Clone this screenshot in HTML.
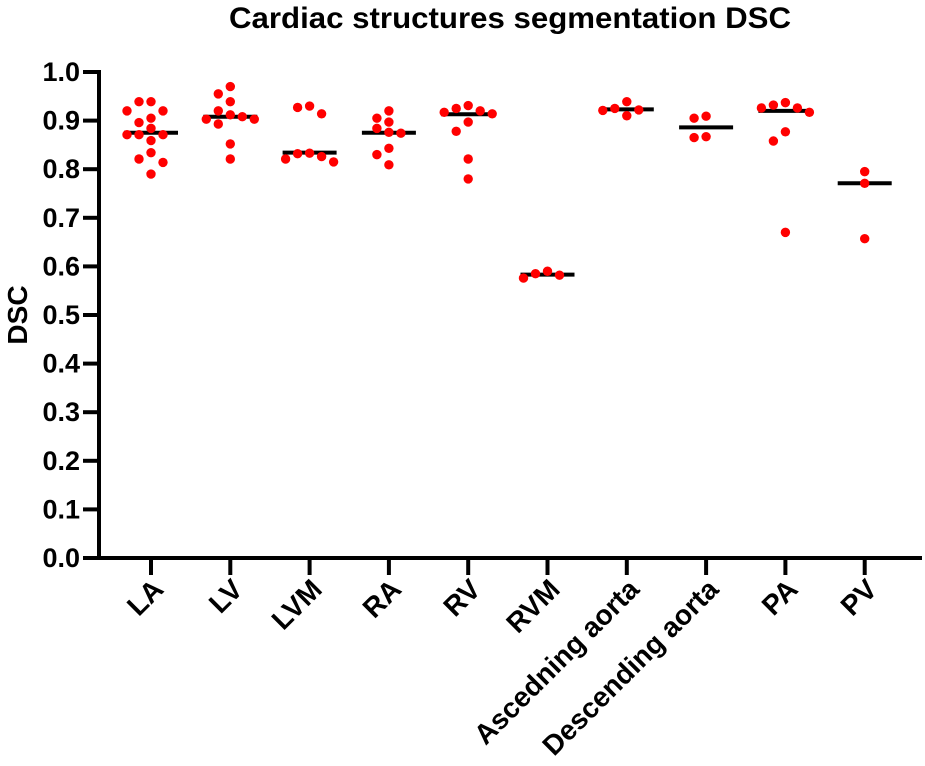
<!DOCTYPE html>
<html><head><meta charset="utf-8"><style>
body{margin:0;background:#fff;}
svg{display:block;font-family:"Liberation Sans",Arial,sans-serif;font-weight:bold;}
</style></head><body>
<svg id="chart" width="925" height="766">
<text x="510" y="28" text-anchor="middle" font-size="30" textLength="562" lengthAdjust="spacingAndGlyphs">Cardiac structures segmentation DSC</text>
<text transform="translate(27,315) rotate(-90)" text-anchor="middle" font-size="28">DSC</text>
<g id="axes"></g><g id="marks"></g>
</svg>
<script>
const categories=["LA","LV","LVM","RA","RV","RVM","Ascedning aorta","Descending aorta","PA","PV"];
const medians=[0.875,0.908,0.834,0.875,0.913,0.583,0.923,0.886,0.920,0.771];
const valsLA=[0.939,0.939,0.920,0.920,0.905,0.896,0.884,0.871,0.871,0.871,0.859,0.834,0.821,0.814,0.790];
const valsLV=[0.970,0.955,0.939,0.920,0.912,0.908,0.903,0.903,0.893,0.852,0.821];
const valsLVM=[0.930,0.927,0.914,0.833,0.832,0.826,0.821,0.815];
const valsRA=[0.920,0.905,0.897,0.884,0.876,0.874,0.843,0.830,0.809];
const valsRV=[0.931,0.925,0.920,0.917,0.914,0.897,0.878,0.821,0.780];
const valsRVM=[0.590,0.585,0.582,0.576];
const valsAsc=[0.939,0.925,0.922,0.921,0.910];
const valsDesc=[0.909,0.905,0.867,0.865];
const valsPA=[0.937,0.932,0.926,0.926,0.917,0.877,0.858,0.670];
const valsPV=[0.795,0.771,0.657];
const series=[valsLA,valsLV,valsLVM,valsRA,valsRV,valsRVM,valsAsc,valsDesc,valsPA,valsPV];
const yTicks=[0,0.1,0.2,0.3,0.4,0.5,0.6,0.7,0.8,0.9,1.0];

const NS="http://www.w3.org/2000/svg";
const X0=99,Y0=558,Y1=72;
function y(v){return Y0-(Y0-Y1)*v;}
function x(i){return 151+i*79.3;}
function mk(tag,attrs,parent){const e=document.createElementNS(NS,tag);for(const k in attrs)e.setAttribute(k,attrs[k]);parent.appendChild(e);return e;}
const axes=document.getElementById('axes'),marks=document.getElementById('marks');
let l=mk('line',{x1:X0,y1:Y1-2,x2:X0,y2:Y0+2,stroke:'#000','stroke-width':4},axes);


l=mk('line',{x1:X0-2,y1:Y0,x2:922,y2:Y0,stroke:'#000','stroke-width':4},axes);


yTicks.forEach(t=>{
  const tk=mk('line',{x1:X0-16,y1:y(t),x2:X0,y2:y(t),stroke:'#000','stroke-width':4},axes);
  
  
  const tx=mk('text',{x:X0-19,y:y(t)+9,'text-anchor':'end','font-size':27},axes);
  tx.textContent=t.toFixed(1);
  
  
});
categories.forEach((c,i)=>{
  const tk=mk('line',{x1:x(i),y1:Y0,x2:x(i),y2:Y0+17,stroke:'#000','stroke-width':4},axes);
  
  
  const tx=mk('text',{transform:`translate(${x(i)+14},${Y0+33}) rotate(-45)`,'text-anchor':'end','font-size':28},axes);
  tx.textContent=c;
  
  
  const m=mk('line',{x1:x(i)-27,y1:y(medians[i]),x2:x(i)+27,y2:y(medians[i]),stroke:'#000','stroke-width':4},marks);
  
  
  const placed=[];
  series[i].forEach(v=>{
    const py=y(v);let off=0;
    const cands=[0,-12,12,-24,24,-36,36,-48,48];
    for(const o of cands){if(placed.every(p=>Math.hypot(p[0]-o,p[1]-py)>=10)){off=o;break;}}
    placed.push([off,py]);
    const d=mk('circle',{cx:x(i)+off,cy:py,r:4.7,fill:'#f00'},marks);
    
    
  });
});
</script>
</body></html>
